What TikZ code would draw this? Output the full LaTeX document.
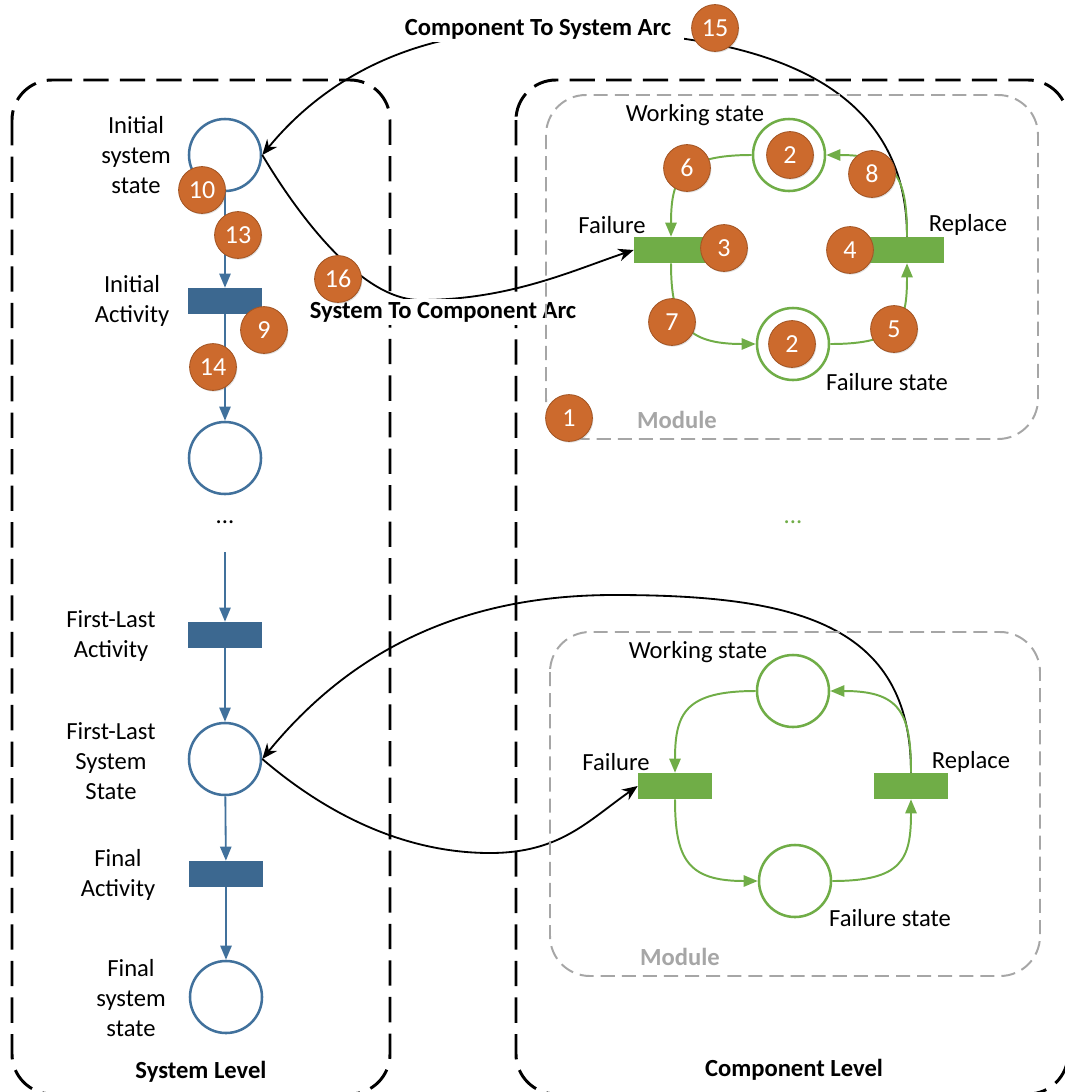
\documentclass[tikz,border=0pt]{standalone}
\usepackage{fontspec}
\setmainfont{Carlito}
\usetikzlibrary{arrows.meta,shadows}
\definecolor{petriblue}{HTML}{41719C}
\definecolor{petrigreen}{HTML}{70AD47}
\definecolor{badgeor}{HTML}{CC6A2D}
\definecolor{modgray}{HTML}{A6A6A6}

\begin{document}
\begin{tikzpicture}[x=0.025cm, y=-0.025cm,
      every node/.style={font=\fontsize{17.5}{21.3}\selectfont},
      place/.style={circle, draw=petriblue, line width=1.8pt, fill=white,
                 minimum size=1.8cm, inner sep=0pt},
      trans/.style={rectangle, fill=petriblue!92!black, minimum width=1.85cm,
                 minimum height=0.65cm, inner sep=0pt},
      gplace/.style={place, draw=petrigreen},
      gtrans/.style={trans, fill=petrigreen},
      badge/.style={circle, fill=badgeor, draw=badgeor!80!black, line width=0.6pt,
                 text=white, minimum size=1.17cm, inner sep=0pt,
                 font=\fontsize{18.5}{20}\selectfont,
                 drop shadow={opacity=0.25, shadow xshift=0.7pt, shadow yshift=-0.9pt}},
      lbl/.style={align=center, inner sep=0pt},
      arclbl/.style={font=\bfseries\fontsize{17.5}{21.3}\selectfont, fill=white,
                 inner xsep=9pt, inner ysep=2pt},
      lvl/.style={font=\bfseries\fontsize{17.5}{21.3}\selectfont},
      modl/.style={font=\bfseries\fontsize{17.5}{21.3}\selectfont, text=modgray},
      level/.style={draw=black, line width=2.1pt, dash pattern=on 18pt off 8pt,
                 rounded corners=1cm},
      module/.style={draw=modgray, line width=1.4pt, dash pattern=on 10pt off 5pt,
                 rounded corners=1cm},
      barr/.style={-{Triangle[length=10pt,width=8pt]}, petriblue, line width=1.3pt},
      garr/.style={-{Triangle[length=10pt,width=8pt]}, petrigreen, line width=1.4pt},
      karr/.style={-{Stealth[length=11pt,width=9pt]}, black, line width=1.3pt}]
    \useasboundingbox (0,0) rectangle (1065,1092);

    % the two levels
    \draw[level] (12,80) rectangle (390,1094);
    \draw[level] (516,80) rectangle (1068,1094);

    % system level net
    \node[place] (p0) at (225,155) {};
    \node[trans] (t0) at (225,301) {};
    \node[place] (p1) at (225,458) {};
    \node (sdots) at (225,522) {...};
    \coordinate (sgo) at (225,552);
    \node[trans] (t1) at (225,635) {};
    \node[place] (p2) at (225,759) {};
    \node[trans] (t2) at (226,874) {};
    \node[place] (p3) at (226,997) {};
    \draw[barr] (p0) -- (t0);
    \draw[barr] (t0) -- (p1);
    \draw[barr] (sgo) -- (t1);
    \draw[barr] (t1) -- (p2);
    \draw[barr] (p2) -- (t2);
    \draw[barr] (t2) -- (p3);

    \node[lbl] (lp0) at (136,155) {Initial\\system\\state};
    \node[lbl] (lt0) at (132,301) {Initial\\Activity};
    \node[lbl] (lt1) at (111,636) {First-Last\\Activity};
    \node[lbl] (lp2) at (111,761) {First-Last\\System\\State};
    \node[lbl] (lt2) at (118,875) {Final\\Activity};
    \node[lbl] (lp3) at (131,998) {Final\\system\\state};
    \node[lvl] (sysl) at (201,1072) {System Level};

    % component modules
    \node[gplace] (wp1) at (789,155) {};
    \node[gtrans] (f1) at (671,250) {};
    \node[gtrans] (r1) at (907,250) {};
    \node[gplace] (fp1) at (793,344) {};
    \node[gplace] (wp2) at (793,691) {};
    \node[gtrans] (f2) at (675,786) {};
    \node[gtrans] (r2) at (911,786) {};
    \node[gplace] (fp2) at (795,881) {};

    % arcs between the levels
    \coordinate (ctsa) at (538,30);
    \coordinate (stca) at (420,300);
    \coordinate (fla) at (614,595);
    \coordinate (flb) at (490,853);
    \draw[karr] (r1.north) .. controls +(0,-190) and +(150,0) .. (ctsa)
                .. controls +(-150,0) and +(45,-55) .. (p0.east);
    \draw[karr] (p0.east) .. controls +(15,25) and +(-70,0) .. (stca)
                .. controls +(90,0) and +(-60,20) .. (f1.west);
    \draw[karr] (r2.north) .. controls +(0,-150) and +(180,0) .. (fla)
                .. controls +(-150,0) and +(90,-110) .. (p2.east);
    \draw[karr] (p2.east) .. controls +(70,60) and +(-80,0) .. (flb)
                .. controls +(70,0) and +(-50,35) .. (f2.west);
    \node[arclbl] (ctsl) at (538,29) {Component To System Arc};
    \node[arclbl] (stcl) at (443,312) {System To Component Arc};

    \draw[module] (546,95) rectangle (1038,439);
    \draw[module] (550,632) rectangle (1040,976);

    \foreach \w/\f/\r/\fp in {wp1/f1/r1/fp1, wp2/f2/r2/fp2} {
      \draw[garr] (\w.west) .. controls +(-70,0) and +(0,-60) .. (\f.north);
      \draw[garr] (\f.south) .. controls +(0,60) and +(-70,0) .. (\fp.west);
      \draw[garr] (\fp.east) .. controls +(70,0) and +(0,60) .. (\r.south);
      \draw[garr] (\r.north) .. controls +(0,-60) and +(70,0) .. (\w.east);
    }

    \node (lwp1) at (695,115) {Working state};
    \node (lf1) at (612,225) {Failure};
    \node (lr1) at (968,225) {Replace};
    \node (lfp1) at (887,382) {Failure state};
    \node[modl] (m1) at (677,420) {Module};
    \node (lwp2) at (698,652) {Working state};
    \node (lf2) at (616,762) {Failure};
    \node (lr2) at (971,762) {Replace};
    \node (lfp2) at (890,918) {Failure state};
    \node[modl] (m2) at (680,957) {Module};
    \node[text=petrigreen] (cdots) at (793,522) {...};
    \node[lvl] (compl) at (794,1070) {Component Level};

    % numbered markers
    \node[badge] (b1) at (569,418) {1};
    \node[badge] (b2a) at (790,155) {2};
    \node[badge] (b2b) at (792,344) {2};
    \node[badge] (b3) at (724,248) {3};
    \node[badge] (b4) at (850,250) {4};
    \node[badge] (b5) at (894,329) {5};
    \node[badge] (b6) at (687,168) {6};
    \node[badge] (b7) at (672,322) {7};
    \node[badge] (b8) at (872,174) {8};
    \node[badge] (b9) at (264,330) {9};
    \node[badge] (b10) at (202,190) {10};
    \node[badge] (b13) at (238,235) {13};
    \node[badge] (b14) at (213,367) {14};
    \node[badge] (b15) at (715,28) {15};
    \node[badge] (b16) at (338,279) {16};
  \end{tikzpicture}
\end{document}
